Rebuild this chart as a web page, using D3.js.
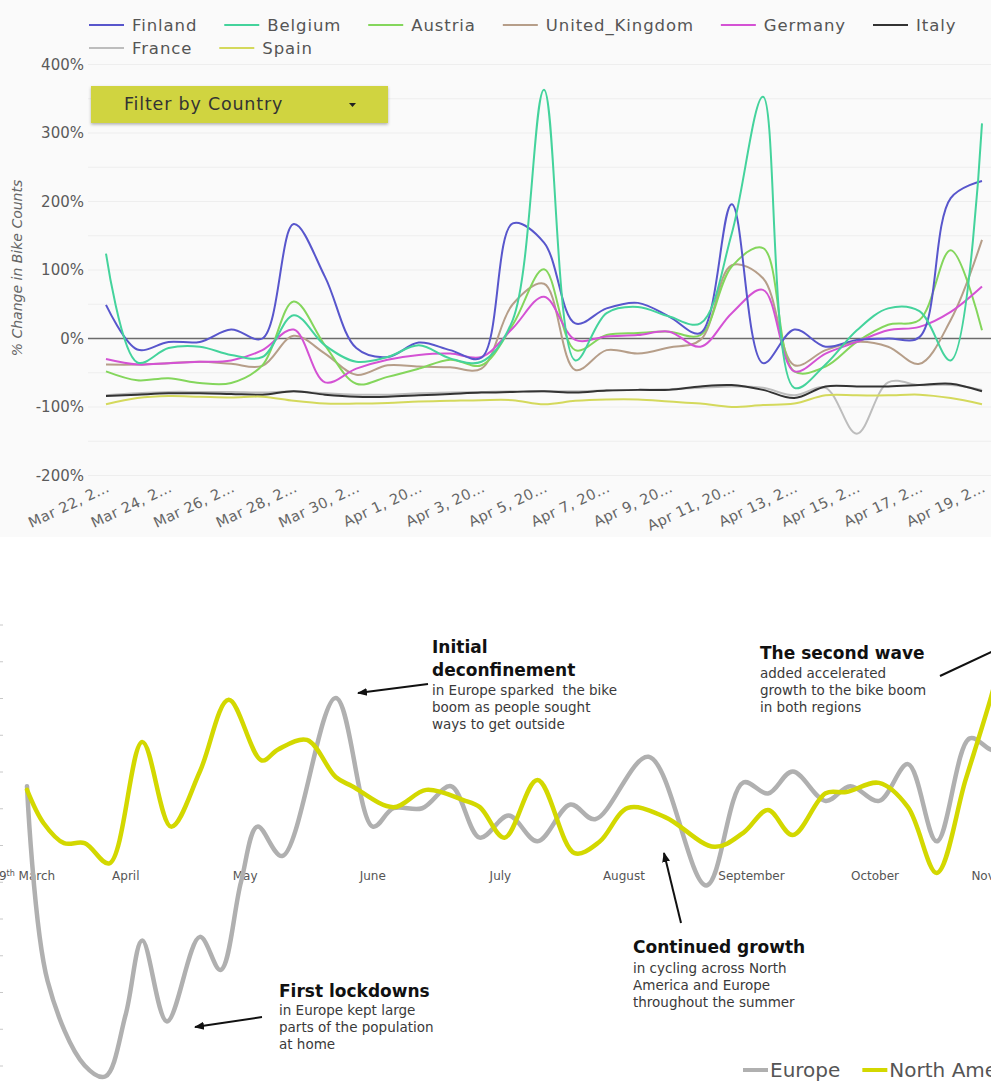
<!DOCTYPE html>
<html>
<head>
<meta charset="utf-8">
<script src="https://cdn.jsdelivr.net/npm/d3@7"></script>
<style>
body { margin: 0; background: #fff; }
svg { display: block; font-family: "DejaVu Sans", sans-serif; }
</style>
</head>
<body>
<div id="chart"></div>
<script>
(function() {

const parseDay = d3.timeParse("%Y-%m-%d");

// ---- top chart data (daily % change in bike counts) ----
const topDates = ["2020-03-22","2020-03-23","2020-03-24","2020-03-25","2020-03-26","2020-03-27","2020-03-28",
    "2020-03-29","2020-03-30","2020-03-31","2020-04-01","2020-04-02","2020-04-03","2020-04-04","2020-04-05",
    "2020-04-06","2020-04-07","2020-04-08","2020-04-09","2020-04-10","2020-04-11","2020-04-12","2020-04-13",
    "2020-04-14","2020-04-15","2020-04-16","2020-04-17","2020-04-18","2020-04-19"];

const countries = ["Finland", "Belgium", "Austria", "United_Kingdom", "Germany", "Italy", "France", "Spain"];
const countryColors = ["#5856cc", "#44d39c", "#84d65c", "#b69e89", "#d452d4", "#333333", "#bdbdbd", "#d4d95c"];

const finland = [49,-16,-5,-5,13,0,167,90,-14,-27,-6,-17,-28,168,140,22,44,52,32,8,196,-36,13,-12,-2,0,2,205,230];
const belgium = [124,-35,-14,-12,-24,-27,34,-10,-34,-27,-10,-29,-34,27,363,-32,37,46,32,22,153,353,-72,-38,12,44,40,-32,314];
const austria = [-48,-61,-58,-65,-65,-39,54,-10,-66,-56,-44,-31,-39,20,101,-17,5,8,10,5,105,132,-48,-41,-5,20,27,129,12];
const unitedKingdom = [-38,-38,-36,-34,-37,-40,4,-22,-53,-39,-41,-42,-44,50,80,-46,-17,-22,-13,-2,107,88,-39,-17,-5,-12,-37,27,144];
const germany = [-30,-38,-36,-34,-32,-17,13,-64,-44,-31,-24,-22,-27,15,61,-2,3,5,10,-12,37,71,-48,-22,-5,12,17,39,76];
const italy = [-84,-82,-80,-80,-81,-82,-77,-82,-85,-85,-83,-81,-79,-78,-77,-79,-76,-75,-75,-70,-68,-75,-87,-70,-70,-70,-68,-66,-77];
const france = [-83,-80,-78,-78,-78,-79,-77,-80,-82,-82,-80,-79,-78,-77,-77,-77,-76,-75,-74,-72,-70,-72,-83,-72,-139,-64,-68,-68,-75];
const spain = [-96,-87,-84,-85,-86,-85,-91,-95,-95,-94,-92,-91,-90,-90,-96,-91,-89,-89,-92,-95,-100,-97,-95,-83,-83,-83,-82,-87,-96];
const seriesValues = [finland, belgium, austria, unitedKingdom, germany, italy, france, spain];

const topTickLabels = ["Mar 22, 2…","Mar 24, 2…","Mar 26, 2…","Mar 28, 2…","Mar 30, 2…","Apr 1, 20…","Apr 3, 20…",
    "Apr 5, 20…","Apr 7, 20…","Apr 9, 20…","Apr 11, 20…","Apr 13, 2…","Apr 15, 2…","Apr 17, 2…","Apr 19, 2…"];
const topYTicks = [-200, -100, 0, 100, 200, 300, 400];
const topGridVals = [-200, -150, -100, -50, 0, 50, 100, 150, 200, 250, 300, 350, 400];

// ---- bottom chart data (Europe vs North America) ----
const euDates = ["2020-03-09","2020-03-14","2020-03-23","2020-03-28","2020-04-02","2020-04-06","2020-04-12",
    "2020-04-20","2020-04-25","2020-04-30","2020-05-04","2020-05-10","2020-05-23","2020-06-01","2020-06-06",
    "2020-06-13","2020-06-20","2020-06-27","2020-07-04","2020-07-11","2020-07-19","2020-07-25","2020-08-07",
    "2020-08-21","2020-08-30","2020-09-05","2020-09-11","2020-09-19","2020-09-25","2020-10-02","2020-10-09",
    "2020-10-16","2020-10-24","2020-10-29","2020-11-03"];
const euValues = [16,-37,-60,-63,-46,-26,-48,-25,-34,-10,5,-3,40,5,10,10,16,2,8,1,11,7,24,-11,17,14,20,12,16,12,22,1,29,26,24];

const naDates = ["2020-03-09","2020-03-13","2020-03-18","2020-03-23","2020-03-29","2020-04-06","2020-04-13",
    "2020-04-20","2020-04-27","2020-05-05","2020-05-09","2020-05-16","2020-05-23","2020-05-27","2020-06-06",
    "2020-06-14","2020-06-23","2020-06-27","2020-07-03","2020-07-11","2020-07-20","2020-07-26","2020-08-02",
    "2020-08-11","2020-08-23","2020-08-30","2020-09-05","2020-09-11","2020-09-19","2020-09-24","2020-10-02",
    "2020-10-09","2020-10-16","2020-10-23","2020-10-29","2020-11-03"];
const naValues = [15,6,0.5,0.5,-5,28,5,20,39.5,23,26,28.6,18.5,16,10.3,15,12.2,10.3,2,17.7,-2.2,0.8,10.1,7.6,-0.5,3.3,9.5,2.7,14.1,14.4,16.9,10.3,-7.6,17.7,39.5,60];

const regions = ["Europe", "North America"];
const regionColors = ["#b0b0b0", "#d3d800"];

const monthDates = ["2020-03-09","2020-04-02","2020-05-01","2020-06-01","2020-07-02","2020-08-01","2020-09-01","2020-10-01","2020-11-01"];
const monthLabels = ["9th March","April","May","June","July","August","September","October","November"];
const bottomYTicks = [-60,-50,-40,-30,-20,-10,0,10,20,30,40,50,60];

const W = 991, H = 1084;

let svg = d3.select("#chart").append("svg")
    .attr("width", W)
    .attr("height", H);

let defs = svg.append("defs");
let shadow = defs.append("filter").attr("id", "shadow")
    .attr("x", "-10%").attr("y", "-30%").attr("width", "120%").attr("height", "170%");
shadow.append("feDropShadow")
    .attr("dx", 0).attr("dy", 1.5).attr("stdDeviation", 1.5)
    .attr("flood-color", "#000").attr("flood-opacity", 0.3);
defs.append("marker").attr("id", "arrow")
    .attr("viewBox", "0 -5 10 10")
    .attr("refX", 9).attr("refY", 0)
    .attr("markerUnits", "userSpaceOnUse")
    .attr("markerWidth", 10).attr("markerHeight", 10)
    .attr("orient", "auto")
  .append("path")
    .attr("d", "M0,-4L10,0L0,4Z")
    .attr("fill", "#111");

// =================== TOP CHART ===================
svg.append("rect").attr("x", 0).attr("y", 0).attr("width", W).attr("height", 537).attr("fill", "#fafafa");

let xT = d3.scaleTime()
    .domain([parseDay(topDates[0]), parseDay(topDates[topDates.length - 1])])
    .range([106, 982]);
let yT = d3.scaleLinear().domain([-200, 400]).range([475.5, 64.5]);

// gridlines
svg.append("g").selectAll("line")
    .data(topGridVals)
    .join("line")
    .attr("x1", 88).attr("x2", W)
    .attr("y1", (d) => yT(d)).attr("y2", (d) => yT(d))
    .attr("stroke", (d) => d === 0 ? "#6b6b6b" : "#eeeeee")
    .attr("stroke-width", (d) => d === 0 ? 1.6 : 1);

// y axis
let yAxis = svg.append("g")
    .attr("transform", "translate(84,0)")
    .call(d3.axisLeft(yT).tickValues(topYTicks).tickFormat((d) => d + "%").tickSize(0).tickPadding(0));
yAxis.select(".domain").remove();
yAxis.selectAll("text")
    .attr("font-family", "DejaVu Sans")
    .attr("font-size", 15)
    .attr("fill", "#5a5a5a");

svg.append("text")
    .attr("transform", "translate(22,268) rotate(-90)")
    .attr("text-anchor", "middle")
    .attr("font-size", 14)
    .attr("font-style", "italic")
    .attr("fill", "#666")
    .text("% Change in Bike Counts");

// x axis
let topTickDates = topDates.filter((d, i) => i % 2 === 0).map(parseDay);
let xAxis = svg.append("g")
    .attr("transform", "translate(0,478)")
    .call(d3.axisBottom(xT).tickValues(topTickDates).tickFormat((d, i) => topTickLabels[i]).tickSize(0));
xAxis.select(".domain").remove();
xAxis.selectAll("text")
    .attr("font-family", "DejaVu Sans")
    .attr("font-size", 14.5)
    .attr("letter-spacing", 0.4)
    .attr("fill", "#666")
    .attr("text-anchor", "end")
    .attr("x", 0).attr("y", 0).attr("dy", 0)
    .attr("transform", "translate(4,13) rotate(-25)");

// lines
let topLine = (vals) => d3.line()
    .x((d, i) => xT(parseDay(topDates[i])))
    .y((d) => yT(d))
    .curve(d3.curveCatmullRom.alpha(0.5))(vals);

let order = [6, 5, 7, 3, 2, 4, 0, 1];
svg.append("g").selectAll("path")
    .data(order)
    .join("path")
    .attr("d", (k) => topLine(seriesValues[k]))
    .attr("fill", "none")
    .attr("stroke", (k) => countryColors[k])
    .attr("stroke-width", 2);

// legend (flow layout)
let leg = svg.append("g").attr("font-size", 16.5).attr("letter-spacing", 0.9).attr("fill", "#555");
let lx = 89, ly = 25;
countries.forEach((c, i) => {
    let g = leg.append("g");
    let t = g.append("text").attr("x", 43).attr("y", 6).text(c);
    let w = 43 + t.node().getComputedTextLength();
    if (lx + w > W - 10) { lx = 89; ly += 23; }
    g.attr("transform", "translate(" + lx + "," + ly + ")");
    g.append("line").attr("x1", 0).attr("x2", 35).attr("y1", 0).attr("y2", 0)
        .attr("stroke", countryColors[i]).attr("stroke-width", 2);
    lx += w + 27;
});

// filter button
let btn = svg.append("g").attr("transform", "translate(91,86)");
btn.append("rect").attr("width", 297).attr("height", 37)
    .attr("fill", "#d0d43f").attr("filter", "url(#shadow)");
btn.append("text").attr("x", 33).attr("y", 24)
    .attr("font-size", 17.5).attr("letter-spacing", 0.8).attr("fill", "#333").text("Filter by Country");
btn.append("path").attr("d", "M258,17L265,17L261.5,21Z").attr("fill", "#222");

// =================== BOTTOM CHART ===================
let xB = d3.scaleTime()
    .domain([parseDay("2020-03-09"), parseDay("2020-10-01")])
    .range([27, 875]);
let yB = d3.scaleLinear().domain([-60, 60]).range([1065.5, 624.5]);

// cropped y axis ticks on the left edge
let yAxisB = svg.append("g")
    .attr("transform", "translate(3,0)")
    .call(d3.axisLeft(yB).tickValues(bottomYTicks).tickSize(3).tickFormat(""));
yAxisB.select(".domain").remove();
yAxisB.selectAll("line").attr("stroke", "#c8c8c8");

// month labels
let months = svg.append("g").attr("font-size", 12).attr("fill", "#555").attr("text-anchor", "middle");
monthDates.forEach((d, i) => {
    let lab = monthLabels[i];
    let t = months.append("text").attr("x", xB(parseDay(d))).attr("y", 880);
    let m = lab.match(/^(\d+)(th)(.*)$/);
    if (m) {
        t.append("tspan").text(m[1]);
        t.append("tspan").attr("font-size", 8).attr("dy", -4).text(m[2]);
        t.append("tspan").attr("dy", 4).text(m[3]);
    } else {
        t.text(lab);
    }
});

let bottomLine = (dates, vals) => d3.line()
    .x((d, i) => xB(parseDay(dates[i])))
    .y((d) => yB(d))
    .curve(d3.curveCatmullRom.alpha(0.5))(vals);

svg.append("path")
    .attr("d", bottomLine(euDates, euValues))
    .attr("fill", "none").attr("stroke", regionColors[0]).attr("stroke-width", 4.5)
    .attr("stroke-linecap", "round");
svg.append("path")
    .attr("d", bottomLine(naDates, naValues))
    .attr("fill", "none").attr("stroke", regionColors[1]).attr("stroke-width", 4.5)
    .attr("stroke-linecap", "round");

// annotations
const notes = [
    {x: 432, head: ["Initial", "deconfinement"], hy: 653, body: ["in Europe sparked  the bike", "boom as people sought", "ways to get outside"], by: 695},
    {x: 760, head: ["The second wave"], hy: 659, body: ["added accelerated", "growth to the bike boom", "in both regions"], by: 678},
    {x: 633, head: ["Continued growth"], hy: 953, body: ["in cycling across North", "America and Europe", "throughout the summer"], by: 973},
    {x: 279, head: ["First lockdowns"], hy: 997, body: ["in Europe kept large", "parts of the population", "at home"], by: 1015}
];
let ann = svg.append("g");
notes.forEach((n) => {
    n.head.forEach((h, i) => {
        ann.append("text").attr("x", n.x).attr("y", n.hy + i * 23)
            .attr("font-size", 17).attr("font-weight", "bold").attr("fill", "#111")
            .text(h);
    });
    n.body.forEach((b, i) => {
        ann.append("text").attr("x", n.x).attr("y", n.by + i * 17)
            .attr("font-size", 13.5).attr("fill", "#3a3a3a")
            .style("white-space", "pre")
            .text(b);
    });
});

const arrows = [
    {x1: 428, y1: 684, x2: 358, y2: 693, head: true},
    {x1: 681, y1: 923, x2: 664, y2: 853, head: true},
    {x1: 262, y1: 1017, x2: 195, y2: 1027, head: true},
    {x1: 940, y1: 676, x2: 1000, y2: 648, head: false}
];
ann.selectAll("line.arr")
    .data(arrows)
    .join("line")
    .attr("class", "arr")
    .attr("x1", (d) => d.x1).attr("y1", (d) => d.y1)
    .attr("x2", (d) => d.x2).attr("y2", (d) => d.y2)
    .attr("stroke", "#111").attr("stroke-width", 2)
    .attr("marker-end", (d) => d.head ? "url(#arrow)" : null);

// bottom legend (cropped at the right edge as in the source image)
let legB = svg.append("g").attr("font-size", 20).attr("fill", "#555");
let bx = 743;
regions.forEach((r, i) => {
    legB.append("line").attr("x1", bx).attr("x2", bx + 25).attr("y1", 1070).attr("y2", 1070)
        .attr("stroke", regionColors[i]).attr("stroke-width", 4);
    let t = legB.append("text").attr("x", bx + 27).attr("y", 1077).text(r);
    bx += 27 + t.node().getComputedTextLength() + 22;
});

})();
</script>
</body>
</html>
